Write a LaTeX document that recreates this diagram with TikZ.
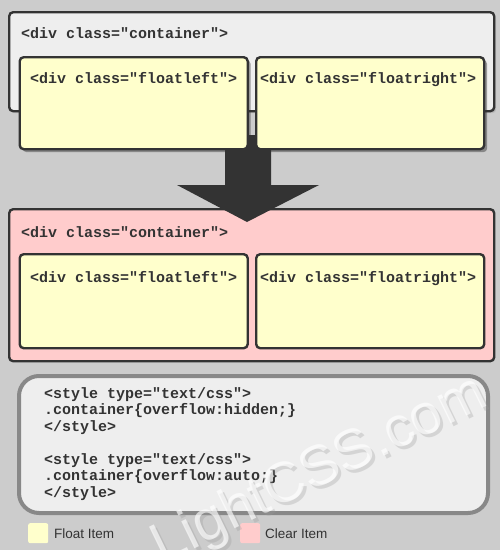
\documentclass[tikz,border=0pt]{standalone}
\usepackage{fontspec}
\setmainfont{Liberation Sans}
\newfontfamily\codefont{Liberation Mono}
\usetikzlibrary{shadows}
\definecolor{bgc}{HTML}{CCCCCC}
\definecolor{darkc}{HTML}{333333}
\definecolor{floatc}{HTML}{FFFFCC}
\definecolor{clearc}{HTML}{FFCCCC}
\definecolor{greyc}{HTML}{EEEEEE}
\definecolor{codeborder}{HTML}{888888}
\tikzset{
  boxbase/.style={draw=darkc, line width=2.4pt, rounded corners=4pt, inner sep=0pt, anchor=north west},
  contbox/.style={boxbase, minimum width=485pt, minimum height=99pt},
  floatbox/.style={boxbase, fill=floatc, minimum width=228pt, minimum height=92pt},
  shadowed/.style={drop shadow={shadow xshift=3pt, shadow yshift=-3pt, opacity=0.45, fill=black!80}},
  codetxt/.style={font=\codefont\bfseries\fontsize{15}{16}\selectfont, text=darkc, anchor=base west, inner sep=0pt},
  legendsq/.style={fill=#1, rounded corners=2pt, minimum width=20pt, minimum height=20pt, inner sep=0pt, anchor=north west},
  legendtxt/.style={font=\fontsize{13.5}{15}\selectfont, text=darkc, anchor=base west, inner sep=0pt},
  wmark/.style={rotate=26, font=\fontsize{57}{60}\selectfont, inner sep=0pt}
}
\begin{document}
\begin{tikzpicture}[x=1pt,y=-1pt]
\fill[bgc] (0,0) rectangle (500,550);
\useasboundingbox (0,0) rectangle (500,550);

% second container (clear)
\node[contbox, fill=clearc, minimum height=152pt] (c2) at (8,208) {};
\node[codetxt] (c2t) at (21,237) {<div class="container">};

% arrow
\fill[darkc] (225,135) -- (271,135) -- (271,185) -- (319,185) -- (247,222) -- (177,185) -- (225,185) -- cycle;
\coordinate (arrowtip) at (247,222);

% first container
\node[contbox, fill=greyc, drop shadow={shadow xshift=2pt, shadow yshift=-2pt, opacity=0.25}] (c1) at (8,11) {};
\node[codetxt] (c1t) at (21,38) {<div class="container">};

% top floats
\node[floatbox, shadowed] (fl1) at (18.5,56) {};
\node[floatbox, shadowed] (fr1) at (255,56) {};
\node[codetxt] (fl1t) at (30,83) {<div class="floatleft">};
\node[codetxt] (fr1t) at (260,83) {<div class="floatright">};

% bottom floats
\node[floatbox, minimum height=94pt] (fl2) at (18.5,253) {};
\node[floatbox, minimum height=94pt] (fr2) at (255,253) {};
\node[codetxt] (fl2t) at (30,282) {<div class="floatleft">};
\node[codetxt] (fr2t) at (260,282) {<div class="floatright">};

% code box
\node[draw=codeborder, fill=greyc, line width=4pt, rounded corners=20pt, minimum width=469pt, minimum height=137pt, inner sep=0pt, anchor=north west] (code) at (17,374) {};
\node[codetxt] (l1) at (44,398) {<style type="text/css">};
\node[codetxt] (l2) at (44,414.5) {.container\{overflow:hidden;\}};
\node[codetxt] (l3) at (44,431) {</style>};
\node[codetxt] (l4) at (44,464) {<style type="text/css">};
\node[codetxt] (l5) at (44,480.5) {.container\{overflow:auto;\}};
\node[codetxt] (l6) at (44,497) {</style>};

% legend
\node[legendsq=floatc] (lg1) at (28,523) {};
\node[legendtxt] (lg1t) at (54,538) {Float Item};
\node[legendsq=clearc] (lg2) at (240,523) {};
\node[legendtxt] (lg2t) at (265,538) {Clear Item};

% watermark
\node[wmark, text=black!40, opacity=0.3] (wms) at (323,474) {LightCSS.com};
\node[wmark, text=white, opacity=0.65] (wm) at (320,471) {LightCSS.com};
\end{tikzpicture}
\end{document}
